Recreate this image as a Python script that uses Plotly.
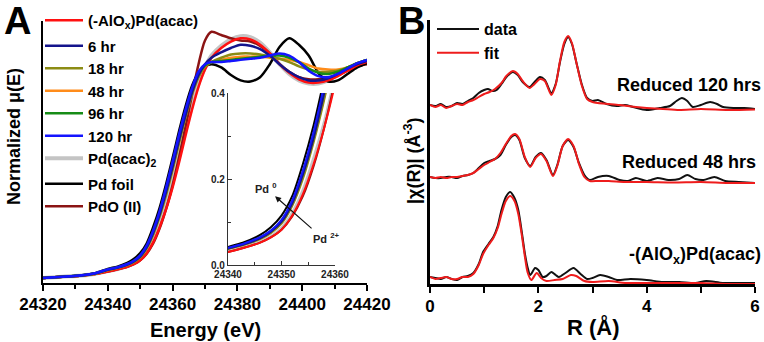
import plotly.graph_objects as go

# ---------------- Panel A: XANES (Normalized mu(E)) ----------------
energy = [24320, 24326, 24332, 24336, 24340, 24343, 24346, 24348, 24350, 24352,
          24354, 24356, 24358, 24360, 24362, 24364, 24366, 24368, 24370, 24372,
          24375, 24378, 24381, 24384, 24387, 24390, 24393, 24396, 24399, 24402,
          24405, 24408, 24411, 24414, 24417, 24420]

mu_alox = [0.0, 0.006, 0.012, 0.019, 0.03, 0.04, 0.052, 0.064, 0.082, 0.115,
           0.165, 0.235, 0.32, 0.42, 0.535, 0.66, 0.78, 0.885, 0.965, 1.02,
           1.065, 1.095, 1.11, 1.105, 1.08, 1.04, 0.99, 0.95, 0.92, 0.905,
           0.905, 0.915, 0.935, 0.96, 0.985, 1.0]
mu_6hr = [0.0, 0.006, 0.012, 0.021, 0.038, 0.048, 0.062, 0.077, 0.1, 0.143,
          0.21, 0.295, 0.4, 0.515, 0.64, 0.755, 0.86, 0.94, 0.99, 1.02,
          1.045, 1.065, 1.08, 1.075, 1.06, 1.03, 0.99, 0.955, 0.93, 0.915,
          0.915, 0.925, 0.945, 0.97, 0.99, 1.005]
mu_18hr = [0.0, 0.006, 0.012, 0.02, 0.037, 0.047, 0.06, 0.074, 0.096, 0.137,
           0.2, 0.285, 0.385, 0.5, 0.625, 0.745, 0.85, 0.93, 0.98, 1.0,
           1.02, 1.035, 1.04, 1.04, 1.035, 1.025, 1.015, 1.0, 0.98, 0.965,
           0.955, 0.955, 0.96, 0.975, 0.995, 1.01]
mu_48hr = [0.0, 0.006, 0.012, 0.02, 0.037, 0.047, 0.061, 0.075, 0.098, 0.14,
           0.205, 0.29, 0.39, 0.505, 0.63, 0.75, 0.855, 0.935, 0.98, 1.0,
           1.01, 1.02, 1.025, 1.025, 1.025, 1.02, 1.015, 1.01, 1.0, 0.985,
           0.97, 0.965, 0.965, 0.975, 0.995, 1.01]
mu_96hr = [0.0, 0.006, 0.013, 0.021, 0.039, 0.049, 0.064, 0.079, 0.103, 0.146,
           0.215, 0.3, 0.41, 0.53, 0.655, 0.77, 0.87, 0.945, 0.985, 1.0,
           1.005, 1.01, 1.015, 1.02, 1.025, 1.03, 1.03, 1.02, 1.0, 0.97,
           0.95, 0.945, 0.955, 0.975, 0.995, 1.01]
mu_120hr = [0.0, 0.006, 0.013, 0.022, 0.04, 0.05, 0.065, 0.08, 0.105, 0.15,
            0.22, 0.31, 0.42, 0.54, 0.665, 0.78, 0.88, 0.955, 0.99, 1.0,
            1.0, 1.005, 1.01, 1.015, 1.02, 1.03, 1.04, 1.03, 1.0, 0.96,
            0.935, 0.93, 0.945, 0.97, 0.995, 1.01]
mu_pdacac2 = [0.0, 0.006, 0.012, 0.019, 0.032, 0.042, 0.055, 0.067, 0.087, 0.122,
              0.175, 0.25, 0.335, 0.44, 0.56, 0.685, 0.8, 0.9, 0.975, 1.03,
              1.075, 1.105, 1.12, 1.115, 1.09, 1.045, 0.99, 0.945, 0.915, 0.9,
              0.9, 0.915, 0.94, 0.965, 0.99, 1.0]
mu_pdfoil = [0.0, 0.006, 0.013, 0.022, 0.042, 0.053, 0.07, 0.088, 0.115, 0.16,
             0.235, 0.325, 0.435, 0.555, 0.68, 0.795, 0.89, 0.95, 0.98, 0.99,
             0.975, 0.94, 0.915, 0.91, 0.93, 0.99, 1.07, 1.11, 1.08, 1.03,
             0.95, 0.91, 0.915, 0.945, 0.975, 0.995]
mu_pdo = [0.0, 0.006, 0.012, 0.019, 0.03, 0.04, 0.052, 0.064, 0.082, 0.113,
          0.16, 0.23, 0.32, 0.43, 0.56, 0.7, 0.85, 0.99, 1.1, 1.14,
          1.125, 1.11, 1.1, 1.095, 1.075, 1.04, 0.99, 0.955, 0.93, 0.92,
          0.92, 0.925, 0.94, 0.96, 0.98, 0.99]

# (name, values, color, width, legend rank, legend group) ; list order = drawing order
xanes_series = [
    ("Pd(acac)<sub>2</sub>", mu_pdacac2, "#c4c4c4", 4.0, 7, "g2"),
    ("PdO (II)", mu_pdo, "#8b1414", 2.5, 9, "g3"),
    ("Pd foil", mu_pdfoil, "#000000", 2.5, 8, "g3"),
    ("(-AlO<sub>x</sub>)Pd(acac)", mu_alox, "#ff1010", 2.5, 1, "g1"),
    ("48 hr", mu_48hr, "#ff8c1a", 2.5, 4, "g2"),
    ("18 hr", mu_18hr, "#8c8c14", 2.5, 3, "g2"),
    ("96 hr", mu_96hr, "#168c16", 2.5, 5, "g2"),
    ("6 hr", mu_6hr, "#14148c", 2.5, 2, "g2"),
    ("120 hr", mu_120hr, "#1414ff", 2.5, 6, "g2"),
]

# ---------------- Panel B: |chi(R)| ----------------
r_top_data = [0.0, 0.1, 0.2, 0.3, 0.4, 0.5, 0.6, 0.7, 0.8, 0.9, 1.0, 1.07, 1.15, 1.23,
              1.32, 1.41, 1.53, 1.62, 1.71, 1.84, 1.93, 2.03, 2.12, 2.24, 2.32, 2.4,
              2.48, 2.55, 2.62, 2.7, 2.8, 2.9, 3.0, 3.1, 3.26, 3.45, 3.6, 3.75, 4.0,
              4.24, 4.43, 4.55, 4.65, 4.75, 4.85, 5.0, 5.17, 5.3, 5.41, 5.6, 5.8, 6.0]
chi_top_data = [1.79, 1.78, 1.80, 1.77, 1.78, 1.81, 1.80, 1.83, 1.86, 1.91, 1.94, 1.95, 1.93, 1.94,
                2.00, 2.07, 2.12, 2.09, 2.02, 1.97, 2.02, 2.07, 2.04, 1.91, 2.00, 2.22,
                2.40, 2.47, 2.40, 2.22, 2.00, 1.86, 1.83, 1.84, 1.80, 1.78, 1.79, 1.77, 1.74,
                1.76, 1.78, 1.83, 1.86, 1.83, 1.77, 1.79, 1.82, 1.80, 1.77, 1.76, 1.76, 1.75]
r_top_fit = [0.0, 0.1, 0.2, 0.3, 0.4, 0.5, 0.6, 0.7, 0.8, 0.9, 1.0, 1.1, 1.2, 1.32,
             1.41, 1.53, 1.62, 1.71, 1.84, 1.93, 2.03, 2.12, 2.24, 2.32, 2.4, 2.48,
             2.55, 2.62, 2.7, 2.8, 2.9, 3.0, 3.1, 3.3, 3.5, 3.8, 4.0, 4.3, 4.6, 5.0, 5.5, 6.0]
chi_top_fit = [1.79, 1.77, 1.79, 1.76, 1.78, 1.80, 1.79, 1.82, 1.84, 1.87, 1.90, 1.92, 1.95, 2.01,
               2.08, 2.13, 2.10, 2.03, 1.96, 2.00, 2.05, 2.03, 1.89, 1.99, 2.23, 2.42,
               2.48, 2.41, 2.22, 1.99, 1.85, 1.82, 1.81, 1.80, 1.79, 1.77, 1.76, 1.75, 1.74, 1.75, 1.74, 1.745]

r_mid_data = [0.0, 0.1, 0.2, 0.3, 0.4, 0.5, 0.6, 0.7, 0.8, 0.9, 1.0, 1.1, 1.2, 1.3, 1.4,
              1.5, 1.57, 1.65, 1.75, 1.85, 1.95, 2.05, 2.15, 2.27, 2.35, 2.45, 2.55, 2.65,
              2.75, 2.85, 2.95, 3.1, 3.3, 3.5, 3.65, 3.8, 4.0, 4.2, 4.4, 4.6, 4.75, 4.9,
              5.05, 5.25, 5.45, 5.7, 6.0]
chi_mid_data = [1.07, 1.06, 1.06, 1.07, 1.07, 1.06, 1.08, 1.09, 1.11, 1.16, 1.21, 1.23, 1.25, 1.29, 1.39,
                1.47, 1.49, 1.44, 1.26, 1.18, 1.27, 1.31, 1.24, 1.09, 1.19, 1.38, 1.44, 1.37,
                1.21, 1.09, 1.04, 1.07, 1.08, 1.04, 1.03, 1.06, 1.03, 1.06, 1.04, 1.05, 1.09, 1.05,
                1.04, 1.07, 1.03, 1.02, 1.01]
r_mid_fit = [0.0, 0.1, 0.2, 0.3, 0.4, 0.5, 0.6, 0.7, 0.8, 0.9, 1.0, 1.1, 1.2, 1.3, 1.4,
             1.5, 1.57, 1.65, 1.75, 1.85, 1.95, 2.05, 2.15, 2.27, 2.35, 2.45, 2.55, 2.65,
             2.75, 2.85, 2.95, 3.1, 3.3, 3.6, 4.0, 4.5, 5.0, 5.5, 6.0]
chi_mid_fit = [1.07, 1.06, 1.07, 1.06, 1.07, 1.07, 1.08, 1.09, 1.11, 1.15, 1.19, 1.22, 1.25, 1.31, 1.40,
               1.48, 1.50, 1.45, 1.27, 1.17, 1.26, 1.30, 1.23, 1.08, 1.18, 1.38, 1.45, 1.38,
               1.20, 1.07, 1.03, 1.03, 1.03, 1.02, 1.02, 1.015, 1.02, 1.01, 1.01]

r_bot_data = [0.0, 0.1, 0.2, 0.3, 0.4, 0.5, 0.6, 0.7, 0.8, 0.9, 0.98, 1.08, 1.17, 1.25, 1.32,
              1.4, 1.48, 1.56, 1.63, 1.7, 1.75, 1.8, 1.85, 1.94, 2.0, 2.08, 2.15, 2.24, 2.32,
              2.38, 2.5, 2.65, 2.78, 2.9, 3.0, 3.14, 3.3, 3.45, 3.7, 4.0, 4.3, 4.6, 4.9, 5.1,
              5.4, 5.7, 6.0]
chi_bot_data = [0.07, 0.06, 0.05, 0.07, 0.05, 0.04, 0.07, 0.08, 0.11, 0.20, 0.32, 0.40, 0.47, 0.58, 0.74,
                0.87, 0.92, 0.86, 0.74, 0.50, 0.31, 0.17, 0.09, 0.16, 0.14, 0.07, 0.08, 0.12, 0.09,
                0.07, 0.11, 0.16, 0.10, 0.05, 0.06, 0.09, 0.07, 0.04, 0.05, 0.04, 0.02, 0.02, 0.01, 0.03,
                0.01, 0.01, 0.01]
r_bot_fit = [0.0, 0.1, 0.2, 0.3, 0.4, 0.5, 0.6, 0.7, 0.8, 0.9, 0.98, 1.08, 1.17, 1.25, 1.32,
             1.4, 1.48, 1.56, 1.63, 1.7, 1.75, 1.8, 1.87, 1.97, 2.05, 2.15, 2.3, 2.45, 2.6,
             2.7, 2.85, 3.0, 3.3, 3.6, 4.0, 4.5, 5.0, 5.5, 6.0]
chi_bot_fit = [0.07, 0.05, 0.06, 0.07, 0.05, 0.05, 0.07, 0.07, 0.10, 0.19, 0.30, 0.39, 0.46, 0.56, 0.70,
               0.83, 0.88, 0.83, 0.70, 0.47, 0.28, 0.12, 0.04, 0.11, 0.06, 0.03, 0.04, 0.05, 0.09,
               0.08, 0.03, 0.02, 0.03, 0.01, 0.01, 0.01, 0.01, 0.0, 0.0]

exafs_labels = ["Reduced 120 hrs", "Reduced 48 hrs", "-(AlO<sub>x</sub>)Pd(acac)"]

FONT = "Liberation Sans, Arial, Helvetica, sans-serif"
W, H = 764, 342


def px(xp):
    return xp / W


def py(yp):
    return (H - yp) / H


fig = go.Figure()

for name, vals, color, width, rank, grp in xanes_series:
    fig.add_trace(go.Scatter(
        x=energy, y=vals, mode="lines", name=name,
        line=dict(color=color, width=width, shape="spline", smoothing=0.8),
        xaxis="x", yaxis="y", legend="legend", legendrank=rank, legendgroup=grp,
        showlegend=True))

for name, vals, color, width, rank, grp in xanes_series:
    fig.add_trace(go.Scatter(
        x=energy, y=vals, mode="lines", name=name,
        line=dict(color=color, width=min(width, 3.0) - 0.5, shape="spline", smoothing=0.8),
        xaxis="x3", yaxis="y3", showlegend=False, legendgroup=grp))

pairs = [
    (r_top_data, chi_top_data, r_top_fit, chi_top_fit, True),
    (r_mid_data, chi_mid_data, r_mid_fit, chi_mid_fit, False),
    (r_bot_data, chi_bot_data, r_bot_fit, chi_bot_fit, False),
]
for rd, cd, rf, cf, show in pairs:
    fig.add_trace(go.Scatter(x=rd, y=cd, mode="lines", name="data",
                             line=dict(color="#111111", width=2, shape="spline", smoothing=0.7),
                             xaxis="x2", yaxis="y2", legend="legend2", showlegend=show,
                             legendgroup="data", legendrank=1))
    fig.add_trace(go.Scatter(x=rf, y=cf, mode="lines", name="fit",
                             line=dict(color="#ee1c1c", width=2, shape="spline", smoothing=0.7),
                             xaxis="x2", yaxis="y2", legend="legend2", showlegend=show,
                             legendgroup="fit", legendrank=2))

tickfont = dict(family=FONT, size=17, color="black", weight="bold")
insetfont = dict(family=FONT, size=10, color="#222", weight="bold")

fig.update_layout(
    template="none",
    width=W, height=H, autosize=False,
    margin=dict(l=0, r=0, t=0, b=0, pad=0, autoexpand=False),
    paper_bgcolor="white", plot_bgcolor="rgba(0,0,0,0)",
    font=dict(family=FONT, color="black"),
    xaxis=dict(domain=[px(43), px(367)], range=[24320, 24420], anchor="y", automargin=False,
               showline=True, linewidth=2, linecolor="black", mirror=False,
               ticks="outside", ticklen=6, tickwidth=2, tickcolor="black",
               dtick=20, tick0=24320, tickfont=tickfont, showgrid=False, zeroline=False,
               ticklabelstandoff=-1,
               minor=dict(dtick=10, ticks="outside", ticklen=4, tickwidth=2, tickcolor="black",
                          showgrid=False),
               tickformat="d"),
    yaxis=dict(domain=[py(283), py(21)], range=[-0.023, 1.19], anchor="x", automargin=False,
               showline=True, linewidth=2, linecolor="black",
               showticklabels=False, ticks="", showgrid=False, zeroline=False),
    xaxis2=dict(domain=[px(430), px(755)], range=[0, 6], anchor="y2", automargin=False,
                showline=True, linewidth=3, linecolor="black",
                ticks="outside", ticklen=6, tickwidth=2, tickcolor="black",
                dtick=2, tick0=0, tickfont=tickfont, showgrid=False, zeroline=False,
                ticklabelstandoff=-1,
                minor=dict(dtick=1, ticks="outside", ticklen=6, tickwidth=2, tickcolor="black",
                           showgrid=False)),
    yaxis2=dict(domain=[py(284), py(20)], range=[0, 2.64], anchor="x2", automargin=False,
                showline=True, linewidth=3, linecolor="black",
                showticklabels=False, ticks="", showgrid=False, zeroline=False),
    xaxis3=dict(domain=[px(228), px(335)], range=[24340, 24360], anchor="y3", automargin=False,
                showline=True, linewidth=1.2, linecolor="#333",
                ticks="inside", ticklen=4, tickwidth=1, tickcolor="#333",
                dtick=10, tick0=24340, tickfont=insetfont, showgrid=False, zeroline=False,
                minor=dict(dtick=5, ticks="inside", ticklen=3, tickwidth=1, tickcolor="#333",
                           showgrid=False),
                tickformat="d"),
    yaxis3=dict(domain=[py(265), py(93)], range=[0, 0.4], anchor="x3", automargin=False,
                showline=True, linewidth=1.2, linecolor="#333",
                ticks="inside", ticklen=4, tickwidth=1, tickcolor="#333",
                dtick=0.2, tick0=0, tickformat=".1f", tickfont=insetfont,
                showgrid=False, zeroline=False,
                minor=dict(dtick=0.1, ticks="inside", ticklen=3, tickwidth=1, tickcolor="#333",
                           showgrid=False)),
    legend=dict(x=px(40), y=py(4), xanchor="left", yanchor="top",
                bgcolor="rgba(0,0,0,0)", borderwidth=0,
                font=dict(family=FONT, size=15, color="black", weight="bold"),
                itemwidth=38, traceorder="grouped", tracegroupgap=3,
                itemclick=False, itemdoubleclick=False),
    legend2=dict(x=px(432), y=py(12), xanchor="left", yanchor="top",
                 bgcolor="rgba(0,0,0,0)", borderwidth=0,
                 font=dict(family=FONT, size=16, color="black", weight="bold"),
                 itemwidth=42, traceorder="normal", tracegroupgap=0),
    showlegend=True,
)


def label(text, x, y, size, angle=0, xanchor="center"):
    return dict(text=text, x=px(x), y=py(y), xref="paper", yref="paper",
                xanchor=xanchor, yanchor="middle", textangle=angle, showarrow=False,
                font=dict(family=FONT, size=size, color="black", weight="bold"))


ann = [
    label("A", 17, 21, 38),
    label("B", 411, 21, 38),
    label("Energy (eV)", 205, 330, 20),
    label("R (Å)", 593, 327, 22),
    label("Normalized μ(E)", 14, 137, 18, angle=-90),
    label("|χ(R)| (Å<sup>-3</sup>)", 412, 160, 18, angle=-90),
]
label_pos = [(763, 85), (758, 162), (763, 255)]
for txt, (lx, ly) in zip(exafs_labels, label_pos):
    ann.append(label(txt, lx, ly, 18, xanchor="right"))

ann.append(dict(text="Pd <sup>0</sup>", x=24347.0, y=0.18, xref="x3", yref="y3",
                xanchor="center", yanchor="middle",
                showarrow=False, font=dict(family=FONT, size=11, color="#222", weight="bold")))
ann.append(dict(text="Pd <sup>2+</sup>", x=24358.3, y=0.062, xref="x3", yref="y3",
                xanchor="center", yanchor="middle",
                showarrow=False, font=dict(family=FONT, size=11, color="#222", weight="bold")))
ann.append(dict(text="", x=24348.8, y=0.16, xref="x3", yref="y3",
                ax=24355.9, ay=0.082, axref="x3", ayref="y3",
                showarrow=True, arrowhead=2, arrowsize=1, arrowwidth=1.2, arrowcolor="#111"))
fig.update_layout(annotations=ann)

fig.write_html("out.html")
